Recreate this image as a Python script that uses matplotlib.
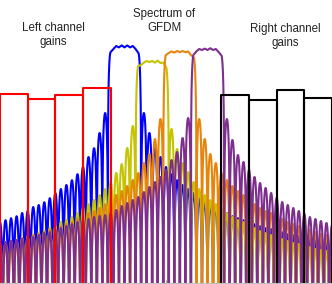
import numpy as np
import matplotlib
matplotlib.use("Agg")
import matplotlib.pyplot as plt

# x axis is in channel widths (12 channels across), y axis is in dB
centres = [4.5, 5.5, 6.5, 7.5]
colours = ["#0000ff", "#c4c400", "#e8840a", "#7e2f8e"]

# ripple on the flat top of each main lobe, every 0.1 across the band
blue_top = [-1.25, -0.5, 0.25, -0.1, 0.4, -0.1, 0.4, -0.1, 0.25, -0.5, -1.5]
yellow_top = [-4.75, -4.5, -3.9, -3.5, -3.75, -3.5, -3.9, -3.4, -4.0, -3.9, -5.0]
orange_top = [-2.0, -1.5, -1.1, -1.4, -1.0, -1.3, -1.0, -1.3, -1.1, -2.0, -2.6]
purple_top = [-1.9, -1.1, -0.5, -0.75, -0.4, -0.75, -0.3, -0.75, -0.5, -1.25, -2.1]

# side lobe peaks in dB; "left" runs from x=0 up to the main lobe,
# "right" runs from the main lobe out to x=12
blue_left = [-43.8, -43.3, -42.8, -42.3, -41.5, -41.0, -40.0, -39.5, -38.8, -37.8,
             -36.5, -35.5, -34.5, -33.3, -31.8, -30.0, -27.5, -25.3, -21.5, -16.5]
blue_right = [-16.5, -21.5, -25.3, -27.5, -30.0, -31.8, -33.3, -34.5, -35.5, -36.5,
              -37.8, -38.8, -39.5, -40.0, -41.0, -41.5, -42.3, -42.8, -43.3, -43.8,
              -44.3, -44.8, -45.3, -45.5, -46.0, -46.3, -46.8, -47.0, -47.3, -47.8,
              -48.0, -48.3, -48.5, -48.8, -49.0]

yellow_left = [-49.75, -49.25, -49.0, -48.5, -48.0, -47.5, -47.0, -46.5, -46.0, -45.25,
               -44.75, -43.75, -43.25, -42.5, -41.5, -40.25, -39.25, -38.25, -37.0, -35.5,
               -33.75, -31.5, -29.25, -25.25, -19.75]
yellow_right = [-20.5, -25.5, -29.0, -31.25, -33.75, -35.5, -37.0, -38.25, -39.25, -40.25,
                -41.5, -42.5, -43.25, -43.75, -44.75, -45.25, -46.0, -46.5, -47.0, -47.5,
                -48.0, -48.5, -49.0, -49.25, -49.75, -50.0, -50.5, -50.75, -51.0, -51.5]

orange_left = [-49.25, -48.75, -48.5, -48.25, -47.75, -47.5, -47.0, -46.75, -46.25, -45.75,
               -45.25, -44.75, -44.25, -43.75, -43.0, -42.5, -41.5, -41.0, -40.25, -39.25,
               -38.0, -37.0, -36.0, -34.75, -33.25, -31.5, -29.0, -26.75, -23.0, -18.0]
orange_right = [-18.0, -23.0, -26.75, -29.0, -31.5, -33.25, -34.75, -36.0, -37.0, -38.0,
                 -39.25, -40.25, -41.0, -41.5, -42.5, -43.0, -43.75, -44.25, -44.75, -45.25,
                 -45.75, -46.25, -46.75, -47.0, -47.5]

purple_left = [-49.0, -48.75, -48.5, -48.25, -48.0, -47.75, -47.5, -47.0, -46.5, -46.25,
               -45.75, -45.25, -44.75, -44.25, -43.75, -43.25, -43.0, -42.5, -42.25, -42.0,
               -41.5, -40.75, -39.75, -39.0, -38.25, -37.5, -36.25, -35.0, -33.75, -32.5,
               -30.75, -28.25, -26.25, -22.75, -17.75]
purple_right = [-18.0, -23.25, -27.0, -28.75, -30.75, -32.5, -34.0, -35.25, -36.5, -37.75,
                -38.75, -39.5, -40.25, -41.0, -41.75, -42.5, -43.0, -43.5, -44.0, -44.5]

left_gains = [-11.8, -13.0, -11.9, -10.3]
right_gains = [-12.1, -13.3, -10.8, -12.8]

tops = [blue_top, yellow_top, orange_top, purple_top]
lefts = [blue_left, yellow_left, orange_left, purple_left]
rights = [blue_right, yellow_right, orange_right, purple_right]

FLOOR = -300.0
LOBE_W = 0.2


def lobe(xc, peak, t0=0.0, t1=1.0, n=25):
    # one sinc-like lobe in dB between two nulls
    t = np.linspace(t0, t1, n)
    with np.errstate(divide="ignore"):
        y = peak + 20 * np.log10(np.abs(np.sin(np.pi * t)))
    y[~np.isfinite(y)] = FLOOR
    y = np.maximum(y, FLOOR)
    return xc - LOBE_W / 2 + LOBE_W * t, y


def spectrum(c, top, left, right):
    xs, ys = [], []
    nl = len(left)
    for k, p in enumerate(left):
        x, y = lobe(c - 0.7 - LOBE_W * (nl - 1 - k), p)
        xs.append(x); ys.append(y)
    # rising edge, ripple top, falling edge
    x, y = lobe(c - 0.5, top[0], 0.0, 0.5, 15)
    xs.append(x); ys.append(y)
    xs.append(c - 0.5 + 0.1 * np.arange(len(top))); ys.append(np.array(top))
    x, y = lobe(c + 0.5, top[-1], 0.5, 1.0, 15)
    xs.append(x); ys.append(y)
    for k, p in enumerate(right):
        x, y = lobe(c + 0.7 + LOBE_W * k, p)
        xs.append(x); ys.append(y)
    return np.concatenate(xs), np.concatenate(ys)


fig = plt.figure(figsize=(3.32, 2.84), dpi=100)
ax = fig.add_axes([0, 1 / 284, 1, 283 / 284])

for c, col, top, left, right in zip(centres, colours, tops, lefts, rights):
    x, y = spectrum(c, top, left, right)
    ax.plot(x, y, color=col, lw=1.5)

for k, g in enumerate(left_gains):
    ax.plot([k, k, k + 1, k + 1], [FLOOR, g, g, FLOOR], color="#ff0000", lw=1.5)
for k, g in enumerate(right_gains):
    ax.plot([8 + k, 8 + k, 9 + k, 9 + k], [FLOOR, g, g, FLOOR], color="black", lw=1.5)

ax.set_xlim(0, 12)
ax.set_ylim(-59, 11.75)
for s in ["top", "left", "right"]:
    ax.spines[s].set_visible(False)
ax.spines["bottom"].set_color("#c0c0c0")
ax.spines["bottom"].set_linewidth(0.8)
ax.set_xticks(np.arange(0, 13, 2))
ax.set_yticks([])
ax.tick_params(axis="x", direction="in", length=2, color="#b0b0b0", labelbottom=False)

font = dict(family="Liberation Sans", fontsize=8.3, color="#222222",
            ha="center", va="center", multialignment="center", linespacing=1.2)
fig.text(0.161, 0.876, "Left channel\ngains", **font)
fig.text(0.494, 0.926, "Spectrum of\nGFDM", **font)
fig.text(0.858, 0.873, "Right channel\ngains", **font)

fig.savefig("out.png", dpi=100)
